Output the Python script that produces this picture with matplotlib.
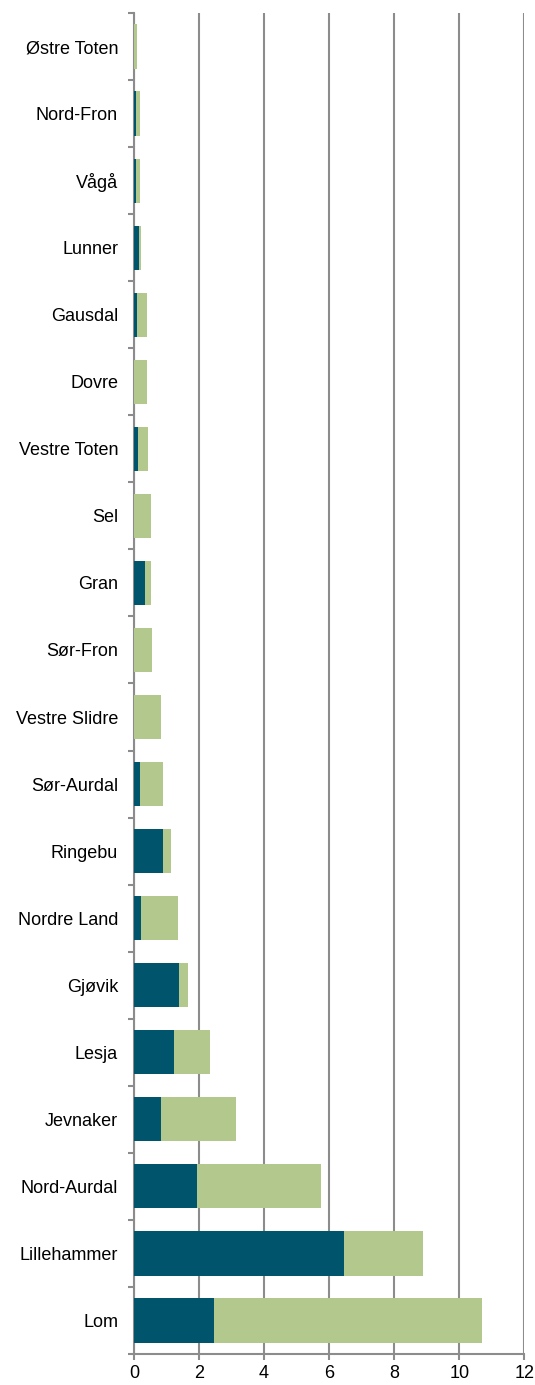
import matplotlib
matplotlib.use("Agg")
import matplotlib.pyplot as plt
import numpy as np

categories = ["Østre Toten", "Nord-Fron", "Vågå", "Lunner", "Gausdal", "Dovre",
              "Vestre Toten", "Sel", "Gran", "Sør-Fron", "Vestre Slidre", "Sør-Aurdal",
              "Ringebu", "Nordre Land", "Gjøvik", "Lesja", "Jevnaker", "Nord-Aurdal",
              "Lillehammer", "Lom"]
dark_values = [0.00, 0.06, 0.06, 0.16, 0.09, 0.00,
               0.11, 0.00, 0.34, 0.00, 0.00, 0.18,
               0.90, 0.22, 1.38, 1.22, 0.83, 1.94,
               6.46, 2.46]
total_values = [0.08, 0.17, 0.17, 0.21, 0.39, 0.41,
                0.42, 0.51, 0.53, 0.56, 0.83, 0.89,
                1.13, 1.36, 1.66, 2.34, 3.14, 5.76,
                8.89, 10.69]
green_values = [t - d for t, d in zip(total_values, dark_values)]
x_ticks = [0, 2, 4, 6, 8, 10, 12]

plt.rcParams['font.family'] = ['Liberation Sans', 'DejaVu Sans']

fig = plt.figure(figsize=(5.35, 13.85), dpi=100)
ax = fig.add_axes([0.2505, 0.0224, 0.98 - 0.2505, 0.9906 - 0.0224])

n = len(categories)
y = np.arange(n)
dark_c = "#00546C"
green_c = "#B3C88C"
ax.barh(y, dark_values, height=0.66, color=dark_c, edgecolor='none', zorder=3)
ax.barh(y, green_values, left=dark_values, height=0.66, color=green_c,
        edgecolor='none', zorder=3)

ax.set_ylim(n - 0.5, -0.5)
ax.set_xlim(0, 12)
ax.set_xticks(x_ticks)
ax.set_xticklabels([str(v) for v in x_ticks], fontsize=13)
ax.set_yticks(y)
ax.set_yticklabels(categories, fontsize=13)
ax.set_yticks(np.arange(n + 1) - 0.5, minor=True)
ax.tick_params(axis='y', which='major', length=0, pad=11.5)
ax.tick_params(axis='y', which='minor', length=4, width=1.5, color='#8C8C8C', direction='out')
ax.tick_params(axis='x', which='major', length=4, width=1.5, color='#8C8C8C', direction='out', pad=4)

grid_c = '#8C8C8C'
ax.xaxis.grid(True, color=grid_c, linewidth=1.5, zorder=0)
ax.set_axisbelow(True)
for s in ['top', 'right']:
    ax.spines[s].set_visible(False)
for s in ['left', 'bottom']:
    ax.spines[s].set_color(grid_c)
    ax.spines[s].set_linewidth(1.5)

fig.savefig("out.png", dpi=100)
